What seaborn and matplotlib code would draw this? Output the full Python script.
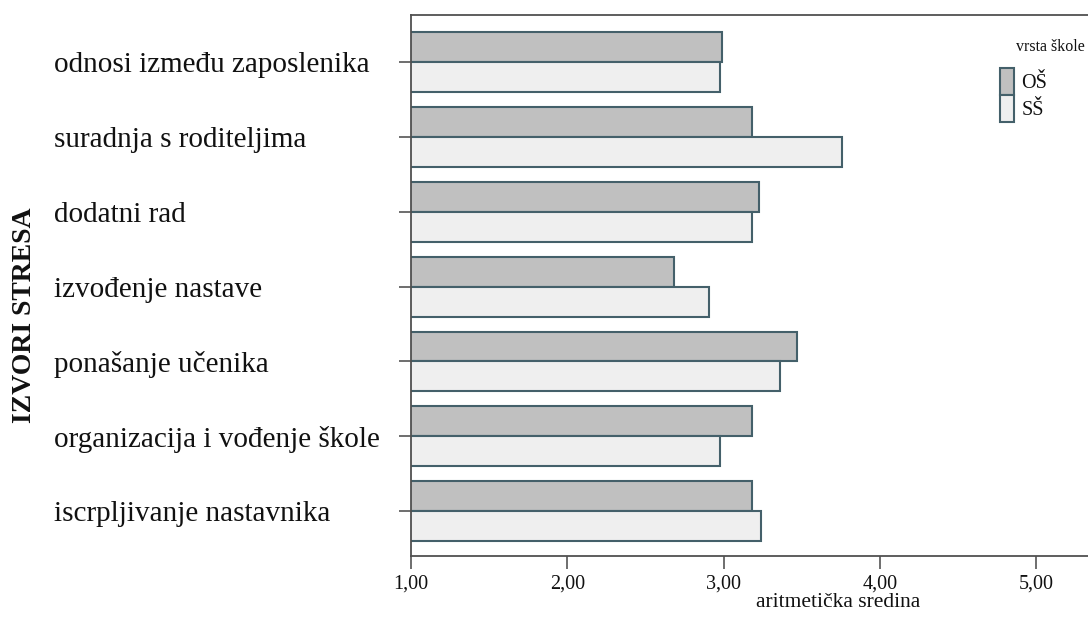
import pandas as pd
import numpy as np
import matplotlib
matplotlib.use('Agg')
import matplotlib.pyplot as plt
import seaborn as sns

# podaci
izvori = ['odnosi između zaposlenika', 'suradnja s roditeljima', 'dodatni rad',
          'izvođenje nastave', 'ponašanje učenika', 'organizacija i vođenje škole',
          'iscrpljivanje nastavnika']
os_vals = [2.99, 3.18, 3.23, 2.68, 3.47, 3.18, 3.18]
ss_vals = [2.98, 3.76, 3.18, 2.91, 3.36, 2.98, 3.24]
skole = ['OŠ', 'SŠ']
x_ticks = [1, 2, 3, 4, 5]
x_tick_labels = ['1,00', '2,00', '3,00', '4,00', '5,00']

df = pd.DataFrame({
    'izvor': izvori * 2,
    'vrsta škole': [skole[0]] * len(izvori) + [skole[1]] * len(izvori),
    'sredina': os_vals + ss_vals,
})

sns.set_style('white')
plt.rcParams['font.family'] = ['Liberation Serif', 'DejaVu Serif']
txt = '#111111'
edge = '#44606a'

fig = plt.figure(figsize=(10.88, 6.32), dpi=100)
ax = fig.add_axes([411 / 1088, 1 - 556 / 632, 1 - 411 / 1088, (556 - 15) / 632])

sns.barplot(data=df, y='izvor', x='sredina', hue='vrsta škole', order=izvori,
            hue_order=skole, palette=['#c0c0c0', '#efefef'], orient='h',
            width=0.8, edgecolor=edge, linewidth=1.5, ax=ax)

ax.set_xlim(1, 1 + (1088 - 411) / 156.25)
ax.set_ylim(6.6, -0.63)
ax.set_xticks(x_ticks)
ax.set_xticklabels(x_tick_labels, fontsize=14.5, color=txt)
ax.set_yticks(range(len(izvori)))
ax.set_yticklabels(izvori, fontsize=21, color=txt)
ax.tick_params(axis='x', direction='out', length=9, width=1.2, color='#555555', pad=4,
               bottom=True)
ax.tick_params(axis='y', direction='out', length=9, width=1.2, color='#555555',
               pad=248, left=True)
for lab in ax.get_yticklabels():
    lab.set_ha('left')

for side in ['left', 'top', 'bottom']:
    ax.spines[side].set_visible(True)
    ax.spines[side].set_color('#505050')
    ax.spines[side].set_linewidth(1.3)
ax.spines['right'].set_visible(False)

ax.set_xlabel('aritmetička sredina', fontsize=15.5, color=txt)
ax.xaxis.set_label_coords((838 - 411) / (1088 - 411), -0.068)
ax.set_ylabel('')
fig.text(25 / 1088, 1 - 315 / 632, 'IZVORI STRESA', rotation=90, fontsize=20,
         fontweight='bold', color=txt, ha='center', va='center')

# legenda: naslov posebno, kvadratići ispod
handles, labels = ax.get_legend_handles_labels()
leg = ax.legend(handles, labels, frameon=False, loc='upper left',
                bbox_to_anchor=(1000 / 1088, 1 - 68 / 632),
                bbox_transform=fig.transFigure,
                fontsize=14.5, handlelength=0.7, handleheight=1.7,
                labelspacing=0.0, handletextpad=0.35, borderpad=0,
                borderaxespad=0)
for t in leg.get_texts():
    t.set_color(txt)
fig.text(1085 / 1088, 1 - 47 / 632, 'vrsta škole', fontsize=11.5, color=txt,
         ha='right', va='center')

fig.savefig('out.png', dpi=100)
